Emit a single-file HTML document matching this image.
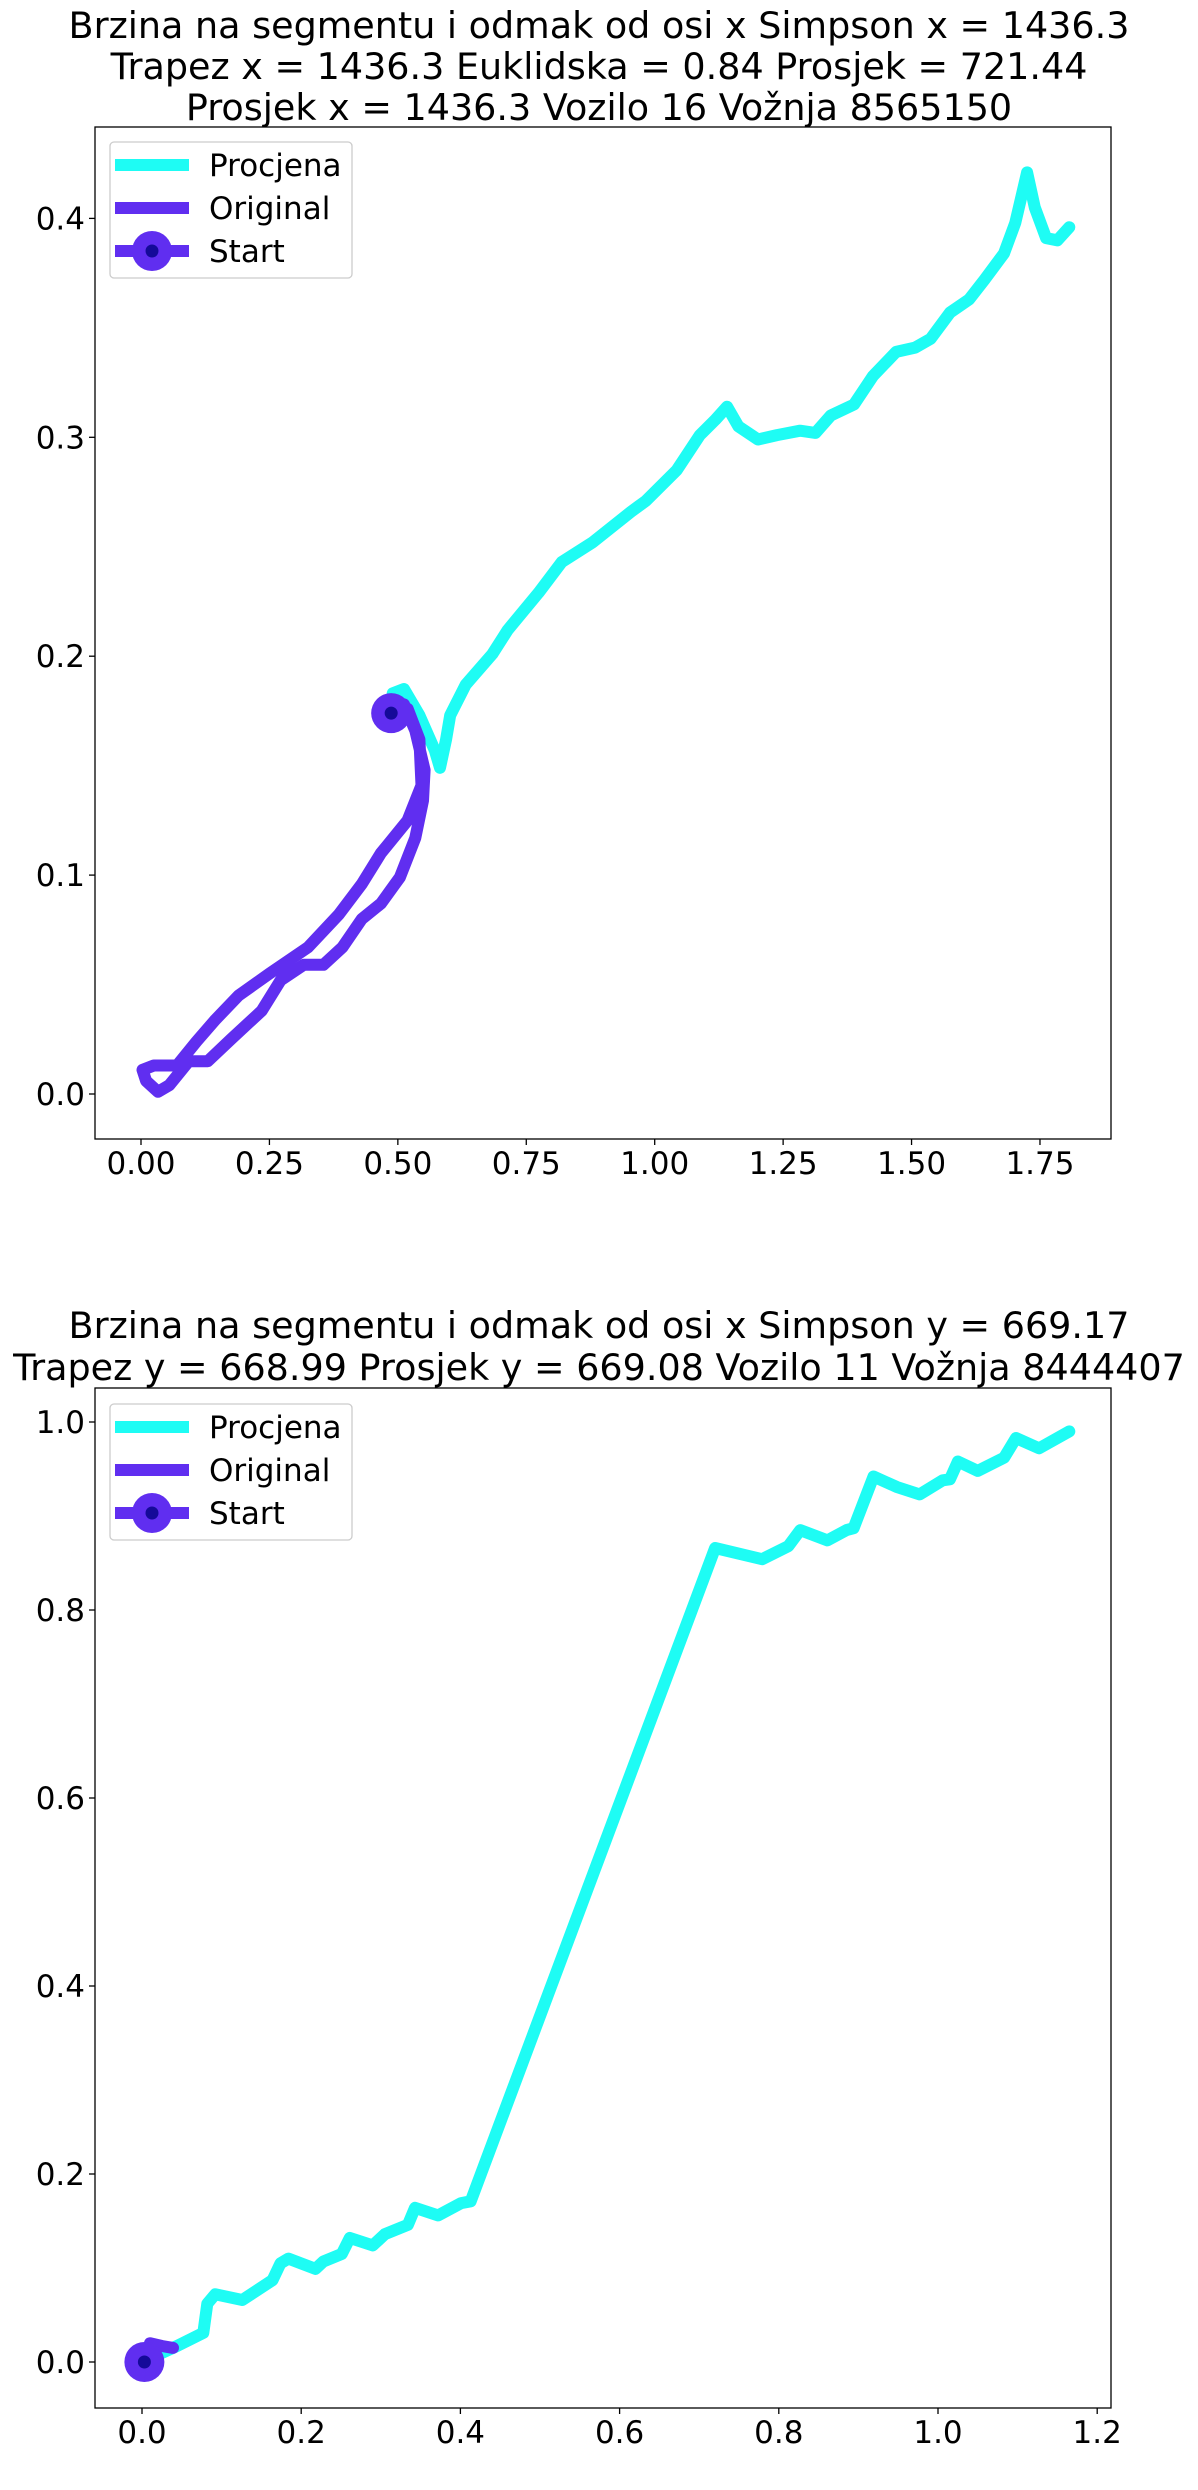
<!DOCTYPE html>
<html><head><meta charset="utf-8"><style>
html,body{margin:0;padding:0;background:#fff;}
svg{display:block;font-family:"DejaVu Sans","Liberation Sans",sans-serif;}
</style></head><body>
<svg id="chart" width="1198" height="2490" viewBox="0 0 1198 2490" xmlns="http://www.w3.org/2000/svg"></svg>
<script>
// Chart 1 data
const p1ProcX=[0.49,0.512,0.542,0.572,0.582,0.594,0.602,0.632,0.684,0.714,0.774,0.819,0.879,0.954,0.983,1.043,1.088,1.118,1.141,1.163,1.201,1.238,1.283,1.313,1.343,1.388,1.425,1.47,1.507,1.537,1.575,1.612,1.642,1.68,1.702,1.725,1.74,1.762,1.784,1.807];
const p1ProcY=[0.183,0.185,0.173,0.157,0.149,0.162,0.173,0.187,0.201,0.212,0.229,0.243,0.252,0.266,0.271,0.285,0.301,0.308,0.314,0.305,0.299,0.301,0.303,0.302,0.31,0.315,0.328,0.339,0.341,0.345,0.357,0.363,0.372,0.384,0.398,0.421,0.405,0.391,0.39,0.396];
const p1OrigX=[0.487,0.512,0.534,0.552,0.549,0.534,0.504,0.467,0.43,0.392,0.355,0.317,0.272,0.235,0.175,0.13,0.093,0.055,0.033,0.01,0.003,0.025,0.07,0.108,0.145,0.19,0.25,0.325,0.385,0.43,0.467,0.519,0.546,0.542,0.519,0.497,0.475];
const p1OrigY=[0.174,0.178,0.166,0.148,0.134,0.117,0.099,0.087,0.08,0.067,0.059,0.059,0.052,0.038,0.025,0.015,0.015,0.004,0.001,0.006,0.011,0.013,0.013,0.024,0.034,0.045,0.055,0.067,0.082,0.096,0.11,0.125,0.141,0.162,0.176,0.178,0.175];
const p1Start=[0.487,0.174];
const p1XTicks=[0,0.25,0.5,0.75,1.0,1.25,1.5,1.75];
const p1XTickLabels=["0.00","0.25","0.50","0.75","1.00","1.25","1.50","1.75"];
const p1YTicks=[0,0.1,0.2,0.3,0.4];
const p1YTickLabels=["0.0","0.1","0.2","0.3","0.4"];
// Chart 2 data
const p2ProcX=[0,0.044,0.077,0.082,0.092,0.126,0.164,0.174,0.184,0.218,0.228,0.251,0.261,0.29,0.305,0.334,0.343,0.372,0.401,0.413,0.72,0.779,0.812,0.827,0.861,0.885,0.894,0.919,0.948,0.977,1.006,1.015,1.025,1.05,1.083,1.098,1.127,1.165];
const p2ProcY=[0,0.017,0.031,0.062,0.072,0.066,0.087,0.105,0.11,0.099,0.107,0.115,0.132,0.124,0.136,0.146,0.164,0.156,0.169,0.171,0.866,0.854,0.868,0.885,0.874,0.885,0.887,0.942,0.931,0.923,0.938,0.939,0.958,0.948,0.962,0.983,0.972,0.99];
const p2OrigX=[0.003,0.01,0.025,0.039];
const p2OrigY=[0.0,0.02,0.017,0.015];
const p2Start=[0.003,0.0];
const p2XTicks=[0,0.2,0.4,0.6,0.8,1.0,1.2];
const p2XTickLabels=["0.0","0.2","0.4","0.6","0.8","1.0","1.2"];
const p2YTicks=[0,0.2,0.4,0.6,0.8,1.0];
const p2YTickLabels=["0.0","0.2","0.4","0.6","0.8","1.0"];

const NS="http://www.w3.org/2000/svg";
const svg=document.getElementById('chart');
const CYAN="#1efcf4", PURPLE="#602ef0", DOT="#150a99";
function mk(tag,attrs,parent){const e=document.createElementNS(NS,tag);for(const k in attrs)e.setAttribute(k,attrs[k]);(parent||svg).appendChild(e);return e;}

function drawChart(cfg){
  const g=mk('g',{});
  
  
  const sx=v=>cfg.x0px+(v-0)*cfg.xs;
  const sy=v=>cfg.y0px-v*cfg.ys;
  cfg.titles.forEach((t,i)=>{
    const tx=mk('text',{x:599,y:cfg.titleY[i],'text-anchor':'middle','font-size':36.5,fill:'#000'},g);
    tx.textContent=t;
    
    
  });
  const cid='clip-'+cfg.name;
  const cp=mk('clipPath',{id:cid},g);
  mk('rect',{x:cfg.L,y:cfg.T,width:cfg.R-cfg.L,height:cfg.B-cfg.T},cp);
  const pg=mk('g',{'clip-path':'url(#'+cid+')'},g);
  const pathOf=(xs,ys)=>xs.map((x,i)=>(i?'L':'M')+sx(x).toFixed(1)+' '+sy(ys[i]).toFixed(1)).join(' ');
  const lp=mk('path',{d:pathOf(cfg.procX,cfg.procY),fill:'none',stroke:CYAN,'stroke-width':12,'stroke-linejoin':'round','stroke-linecap':'round'},pg);
  
  
  const lo=mk('path',{d:pathOf(cfg.origX,cfg.origY),fill:'none',stroke:PURPLE,'stroke-width':12,'stroke-linejoin':'round','stroke-linecap':'round'},pg);
  
  
  const sm=mk('circle',{cx:sx(cfg.start[0]),cy:sy(cfg.start[1]),r:20,fill:PURPLE},pg);
  
  
  mk('circle',{cx:sx(cfg.start[0]),cy:sy(cfg.start[1]),r:6.5,fill:DOT},pg);
  const fr=mk('rect',{x:cfg.L,y:cfg.T,width:cfg.R-cfg.L,height:cfg.B-cfg.T,fill:'none',stroke:'#000','stroke-width':1.3},g);
  
  
  cfg.xTicks.forEach((v,i)=>{
    const x=sx(v);
    mk('line',{x1:x,x2:x,y1:cfg.B,y2:cfg.B+6,stroke:'#000','stroke-width':1.3},g);
    const t=mk('text',{x:x,y:cfg.B+35,'text-anchor':'middle','font-size':31,fill:'#000'},g);
    t.textContent=cfg.xLabels[i];
    
    
  });
  cfg.yTicks.forEach((v,i)=>{
    const y=sy(v);
    mk('line',{x1:cfg.L-6,x2:cfg.L,y1:y,y2:y,stroke:'#000','stroke-width':1.3},g);
    const t=mk('text',{x:cfg.L-10,y:y+11,'text-anchor':'end','font-size':31,fill:'#000'},g);
    t.textContent=cfg.yLabels[i];
    
    
  });
  const lg=mk('g',{},g);
  
  
  mk('rect',{x:110,y:cfg.legT,width:242,height:136,rx:4,fill:'#fff',stroke:'#ccc','stroke-width':1.3},lg);
  const ent=[['Procjena',CYAN,false],['Original',PURPLE,false],['Start',PURPLE,true]];
  ent.forEach((e,i)=>{
    const y=cfg.legT+23+i*43;
    const le=mk('g',{},lg);
    
    
    mk('line',{x1:115,x2:189,y1:y,y2:y,stroke:e[1],'stroke-width':12},le);
    if(e[2]){mk('circle',{cx:152,cy:y,r:20,fill:PURPLE},le);mk('circle',{cx:152,cy:y,r:6.5,fill:DOT},le);}
    const t=mk('text',{x:209,y:y+11,'font-size':31,fill:'#000'},le);
    t.textContent=e[0];
  });
}

drawChart({name:'chart-1',L:95,R:1111,T:127,B:1139,x0px:141,xs:513.7,y0px:1094,ys:2189,
  titles:["Brzina na segmentu i odmak od osi x Simpson x = 1436.3","Trapez x = 1436.3 Euklidska = 0.84 Prosjek = 721.44","Prosjek x = 1436.3 Vozilo 16 Vožnja 8565150"],
  titleY:[38,79,120],procX:p1ProcX,procY:p1ProcY,origX:p1OrigX,origY:p1OrigY,start:p1Start,
  xTicks:p1XTicks,xLabels:p1XTickLabels,yTicks:p1YTicks,yLabels:p1YTickLabels,legT:142});
drawChart({name:'chart-2',L:95,R:1111,T:1388,B:2408,x0px:142,xs:796,y0px:2362,ys:940,
  titles:["Brzina na segmentu i odmak od osi x Simpson y = 669.17","Trapez y = 668.99 Prosjek y = 669.08 Vozilo 11 Vožnja 8444407"],
  titleY:[1338,1380],procX:p2ProcX,procY:p2ProcY,origX:p2OrigX,origY:p2OrigY,start:p2Start,
  xTicks:p2XTicks,xLabels:p2XTickLabels,yTicks:p2YTicks,yLabels:p2YTickLabels,legT:1404});
</script>
</body></html>
